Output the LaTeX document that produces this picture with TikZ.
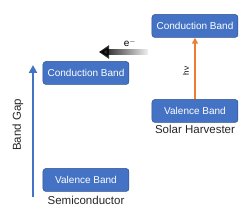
\documentclass[tikz,border=0pt]{standalone}
\usepackage{fontspec}
\setmainfont{Liberation Sans}
\usetikzlibrary{positioning, arrows.meta, fadings}
\definecolor{BandBlue}{RGB}{68, 114, 196}
\definecolor{BandEdge}{RGB}{47, 82, 143}
\definecolor{PhotonOrange}{RGB}{237, 125, 49}
\tikzfading[name=tailfade, left color=transparent!0, middle color=transparent!10, right color=transparent!100]

\begin{document}
\begin{tikzpicture}[x=1pt, y=1pt,
    band/.style={draw=BandEdge, line width=0.5pt, fill=BandBlue, rounded corners=3pt,
      minimum width=86pt, minimum height=23pt, text=white, font=\fontsize{10}{12}\selectfont},
    caption/.style={font=\fontsize{11.5}{13}\selectfont, text=black!85}]
    \useasboundingbox (0,0) rectangle (250,216);

    % Semiconductor
    \node[band] (cbS) at (86,143) {Conduction Band};
    \node[band] (vbS) at (86,36) {Valence Band};
    \node[caption] at (86,16) {Semiconductor};
    \coordinate (gapBot) at (33,19);
    \coordinate (gapTop) at (33,151);
    \draw[BandBlue, line width=2.8pt, -{Triangle[length=8pt, width=8pt]}] (gapBot) -- (gapTop);
    \node[caption, rotate=90] at (18,91) {Band Gap};

    % Solar harvester
    \node[band] (cbH) at (195,190) {Conduction Band};
    \node[band] (vbH) at (195,105) {Valence Band};
    \node[caption] at (195,87) {Solar Harvester};
    \draw[PhotonOrange, line width=1.8pt, -{Triangle[length=6pt, width=6pt]}] (vbH) -- (cbH);
    \node[rotate=90, font=\fontsize{8}{9}\selectfont] at (186,145) {hν};

    % Electron transfer
    \coordinate (eTail) at (148,164);
    \coordinate (eHead) at (99,164);
    \draw[black, line width=6pt, path fading=tailfade, -{Triangle[length=10pt, width=13pt]}] (eTail) -- (eHead);
    \node[font=\fontsize{10}{12}\selectfont] at (130,173) {e$^{-}$};
\end{tikzpicture}
\end{document}
